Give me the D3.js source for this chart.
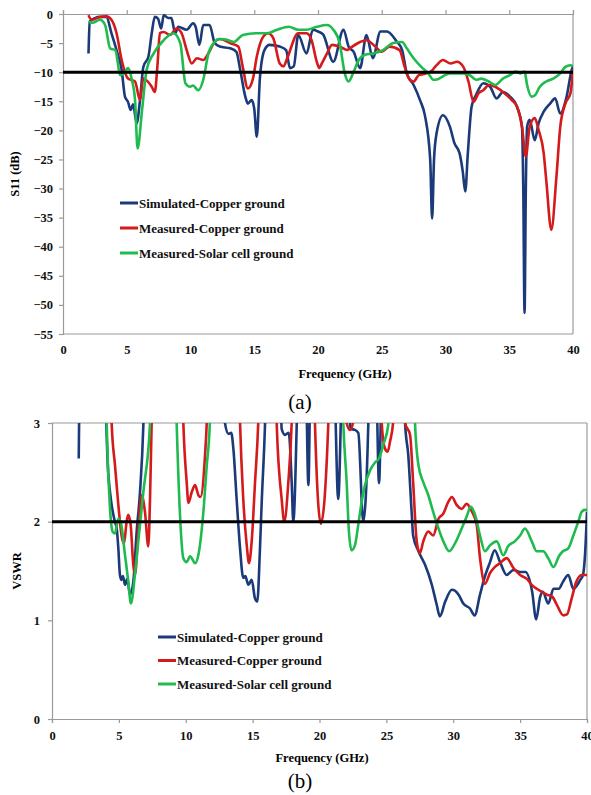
<!DOCTYPE html>
<html>
<head>
<meta charset="utf-8">
<script src="https://d3js.org/d3.v7.min.js"></script>
<style>
  body { margin: 0; background: #fff; }
  svg text { font-family: "Liberation Serif", "Times New Roman", serif; }
</style>
</head>
<body>
<div id="chart"></div>
<script>
// series names + colours -------------------------------------------------------------
const seriesNames = ["Simulated-Copper ground", "Measured-Copper ground", "Measured-Solar cell ground"];
const seriesColors = ["#1b3a7a", "#d41a1a", "#1fbb4f"];

// (a) S11 in dB ----------------------------------------------------------------------
const simFreqA = [2.0, 2.1, 2.5, 2.9, 3.4, 3.8, 4.2, 4.6, 4.86, 5.1, 5.3, 5.5, 5.78, 6.04, 6.3, 6.7, 6.96, 7.2, 7.45, 7.7, 7.9, 8.26, 8.5, 8.8, 9.04, 9.7, 10.2, 10.4, 10.7, 11.0, 11.5, 11.9, 12.3, 13.1, 13.6, 13.9, 14.3, 14.5, 14.8, 15.0, 15.2, 15.45, 15.8, 16.2, 17.0, 17.5, 17.8, 18.1, 18.45, 19.1, 19.6, 20.0, 20.4, 21.2, 22.0, 22.4, 22.8, 23.3, 23.8, 24.3, 24.9, 25.4, 26.2, 26.6, 26.96, 27.5, 28.0, 28.4, 28.8, 28.95, 29.1, 29.3, 29.8, 30.35, 30.7, 31.1, 31.35, 31.55, 31.75, 32.05, 32.4, 32.97, 33.5, 34.0, 34.5, 35.06, 35.6, 36.0, 36.1, 36.2, 36.3, 36.4, 36.6, 37.0, 37.3, 37.7, 38.2, 38.6, 39.0, 39.5, 39.9, 40.0];
const simS11 = [-6.8, -1.3, -0.7, -0.5, -0.5, -3.3, -6.2, -9.6, -14.2, -15.1, -16.5, -15.5, -18.8, -14.8, -9.1, -7.3, -3.3, -0.5, -0.8, -2.5, -0.2, -0.7, -0.7, -3.3, -2.2, -2.7, -1.6, -2.2, -5.3, -1.9, -1.9, -5.0, -5.6, -5.9, -6.5, -9.6, -14.2, -15.4, -14.8, -16.3, -21.1, -10.8, -6.2, -5.3, -5.6, -6.2, -9.3, -9.0, -3.6, -6.8, -2.7, -3.0, -3.5, -8.2, -2.7, -5.6, -6.5, -9.3, -3.6, -7.6, -3.0, -3.0, -4.8, -6.2, -10.2, -12.2, -14.8, -17.6, -25, -35.2, -25, -20.5, -17.4, -19.4, -22.2, -23.9, -27, -30.5, -24, -15.9, -13.9, -11.9, -12.5, -14.5, -13.4, -14.2, -15.9, -19.4, -30, -51.4, -30, -19.4, -18.2, -21.7, -18.8, -16.8, -15.4, -14.5, -17.1, -14.2, -9.6, -9.0];

const measFreqA = [2.0, 2.25, 2.9, 3.4, 3.8, 4.2, 4.6, 5.1, 5.65, 6.04, 6.3, 6.6, 6.96, 7.2, 7.4, 7.6, 7.9, 8.4, 8.9, 9.3, 9.7, 10.1, 10.5, 11.0, 11.4, 11.9, 12.3, 13.1, 13.75, 14.1, 14.5, 14.9, 15.2, 15.7, 16.1, 16.5, 17.0, 17.3, 17.6, 18.45, 19.1, 19.5, 19.9, 20.1, 20.3, 20.7, 21.1, 21.7, 22.3, 22.5, 23.3, 23.8, 24.5, 25.0, 25.6, 26.4, 26.8, 27.2, 27.5, 27.9, 28.5, 28.9, 29.3, 29.8, 30.4, 30.9, 31.4, 31.8, 32.2, 32.6, 32.97, 33.4, 33.9, 34.5, 35.2, 35.6, 36.0, 36.3, 36.6, 37.0, 37.3, 37.7, 37.9, 38.3, 38.7, 39.0, 39.4, 39.8, 40.0];
const measS11 = [-0.2, -1.0, -0.5, -0.4, -1.0, -3.3, -7.9, -11.1, -11.6, -14.8, -11.1, -11.5, -12.5, -13.4, -9.1, -3.3, -3.1, -3.6, -2.5, -3.3, -6.2, -8.5, -7.6, -7.9, -6.8, -4.8, -4.3, -5.0, -5.6, -9.1, -12.8, -11.1, -7.3, -3.9, -3.3, -4.2, -8.5, -9.0, -7.5, -3.3, -3.3, -4.5, -8.2, -9.3, -8.5, -6.8, -5.3, -5.6, -6.2, -5.9, -4.8, -4.5, -5.6, -6.5, -5.6, -6.2, -9.1, -11.3, -11.6, -10.5, -10.2, -9.8, -8.8, -7.9, -8.5, -8.2, -9.1, -11.6, -15.1, -13.6, -13.1, -12.2, -12.5, -13.4, -14.8, -15.9, -19.4, -24.5, -19.4, -17.9, -19.9, -23.9, -28.5, -37.1, -28, -19.4, -15.4, -13.6, -9.6];

const solarFreqA = [2.0, 2.3, 2.9, 3.3, 3.7, 4.1, 4.5, 4.8, 5.1, 5.4, 5.65, 5.85, 6.2, 6.56, 7.1, 7.9, 8.65, 9.2, 9.6, 9.96, 10.2, 10.6, 11.0, 11.4, 11.9, 12.3, 12.8, 13.4, 14.1, 15.2, 16.0, 16.8, 17.7, 18.45, 19.1, 19.9, 20.7, 21.2, 21.7, 22.1, 22.4, 22.8, 23.2, 23.7, 24.3, 25.1, 25.9, 26.6, 26.96, 27.5, 28.1, 28.65, 29.05, 29.4, 29.96, 30.35, 30.9, 31.4, 31.9, 32.4, 32.8, 33.4, 33.9, 34.5, 35.06, 35.5, 35.9, 36.2, 36.4, 36.75, 37.0, 37.4, 37.9, 38.45, 39.0, 39.4, 39.8, 40.0];
const solarS11 = [-1.3, -1.5, -1.0, -1.9, -5.9, -6.2, -10.5, -10.2, -9.3, -11.3, -14.8, -23.1, -16.5, -9.6, -6.8, -4.5, -3.3, -5.0, -11.9, -12.5, -12.3, -13.1, -11.3, -6.8, -4.8, -4.3, -4.4, -4.8, -3.6, -3.3, -3.3, -2.7, -2.2, -2.7, -2.7, -2.2, -1.9, -2.7, -5.0, -10.2, -11.6, -9.9, -7.9, -7.0, -6.8, -6.2, -5.0, -4.8, -5.9, -7.6, -9.1, -10.2, -11.3, -11.2, -10.5, -10.2, -10.2, -10.2, -10.5, -11.3, -11.1, -11.6, -12.2, -11.1, -10.5, -9.9, -10.2, -9.9, -12.2, -14.2, -14.0, -12.5, -11.6, -11.1, -10.2, -9.1, -8.8, -9.0];

// (b) VSWR, values above 3 run off the top of the plot --------------------------------
const simFreqB = [2.0, 2.1, 3.85, 4.2, 4.46, 4.7, 4.84, 4.96, 5.08, 5.2, 5.3, 5.46, 5.63, 5.83, 6.08, 6.33, 6.58, 6.83, 6.95, 12.8, 12.93, 13.2, 13.4, 13.56, 13.8, 14.06, 14.3, 14.45, 14.68, 14.93, 15.18, 15.35, 15.55, 15.68, 15.93, 16.05, 17.05, 17.17, 17.42, 17.7, 17.92, 18.04, 18.3, 18.4, 18.95, 19.17, 19.35, 21.05, 21.4, 21.75, 22.15, 22.3, 22.65, 22.9, 23.27, 23.65, 23.75, 24.2, 24.45, 24.7, 26.3, 26.4, 26.64, 26.9, 27.0, 27.4, 27.9, 28.4, 28.76, 29.0, 29.4, 29.9, 30.4, 30.75, 31.25, 31.6, 32.0, 32.4, 32.75, 33.1, 33.5, 34.0, 34.5, 35.0, 35.4, 35.9, 36.2, 36.5, 36.7, 37.1, 37.5, 37.9, 38.2, 38.6, 38.98, 39.5, 39.7, 39.85, 40.0];
const simVswr = [2.64, 3.6, 3.6, 2.5, 2.17, 2.0, 1.93, 1.73, 1.46, 1.41, 1.45, 1.36, 1.42, 1.26, 1.39, 1.9, 2.3, 2.98, 3.6, 3.6, 3.0, 2.89, 2.9, 2.74, 2.24, 1.73, 1.43, 1.45, 1.36, 1.41, 1.22, 1.19, 1.73, 2.2, 3.0, 3.6, 3.6, 2.94, 2.88, 2.9, 2.4, 2.0, 3.0, 3.6, 3.6, 2.37, 3.6, 3.6, 2.23, 3.6, 3.6, 2.94, 2.93, 2.9, 2.0, 3.0, 3.6, 3.6, 2.39, 3.6, 3.6, 3.0, 2.67, 2.07, 1.86, 1.7, 1.56, 1.36, 1.16, 1.04, 1.19, 1.31, 1.26, 1.17, 1.12, 1.05, 1.26, 1.46, 1.59, 1.71, 1.59, 1.46, 1.51, 1.49, 1.49, 1.29, 1.01, 1.24, 1.29, 1.17, 1.32, 1.32, 1.39, 1.46, 1.32, 1.41, 1.46, 1.66, 2.1];

const measFreqB = [2.0, 4.4, 4.46, 4.71, 4.96, 5.2, 5.38, 5.58, 5.7, 5.88, 6.08, 6.2, 6.45, 6.7, 6.95, 7.2, 7.33, 7.45, 7.55, 9.7, 9.82, 10.07, 10.2, 10.45, 10.7, 10.94, 11.1, 11.44, 11.57, 11.7, 13.95, 14.06, 14.3, 14.56, 14.73, 14.93, 15.18, 15.42, 15.55, 16.7, 16.8, 17.17, 17.37, 17.67, 17.92, 18.05, 19.55, 19.66, 20.1, 20.66, 20.8, 21.9, 22.03, 22.28, 22.5, 22.6, 24.55, 24.65, 24.9, 25.1, 25.27, 25.5, 25.6, 26.3, 26.4, 26.77, 27.0, 27.27, 27.5, 27.76, 28.13, 28.5, 28.9, 29.25, 29.63, 29.9, 30.25, 30.63, 31.0, 31.4, 31.75, 32.0, 32.37, 32.75, 33.1, 33.5, 34.0, 34.5, 35.0, 35.5, 35.87, 36.24, 36.6, 37.0, 37.4, 37.7, 38.23, 38.5, 38.85, 39.2, 39.6, 40.0];
const measVswr = [3.6, 3.6, 3.0, 2.57, 2.17, 1.86, 1.78, 2.0, 2.07, 1.97, 1.56, 1.46, 1.9, 2.27, 2.1, 1.75, 2.24, 3.0, 3.6, 3.6, 3.0, 2.4, 2.19, 2.3, 2.37, 2.27, 2.25, 2.67, 3.0, 3.6, 3.6, 3.0, 2.23, 1.76, 1.58, 1.8, 2.4, 3.0, 3.6, 3.6, 3.0, 2.23, 2.0, 2.4, 3.0, 3.6, 3.6, 3.0, 1.98, 3.0, 3.6, 3.6, 3.0, 2.93, 3.0, 3.6, 3.6, 3.0, 2.74, 2.71, 2.81, 3.0, 3.6, 3.6, 3.0, 2.88, 2.4, 1.8, 1.68, 1.8, 1.9, 1.86, 2.03, 2.08, 2.2, 2.25, 2.17, 2.13, 2.18, 2.1, 1.97, 1.63, 1.37, 1.48, 1.54, 1.58, 1.63, 1.53, 1.46, 1.42, 1.36, 1.32, 1.29, 1.26, 1.24, 1.17, 1.05, 1.06, 1.22, 1.39, 1.46, 1.46];

const solarFreqB = [2.0, 4.0, 4.09, 4.34, 4.53, 4.7, 4.96, 5.13, 5.46, 5.71, 5.9, 6.2, 6.45, 6.83, 7.33, 7.45, 9.2, 9.32, 9.57, 9.82, 10.07, 10.32, 10.7, 10.94, 11.3, 11.57, 11.8, 11.9, 21.65, 21.78, 22.03, 22.2, 22.4, 22.65, 22.9, 23.15, 23.4, 23.78, 24.15, 24.45, 24.77, 25.14, 25.3, 27.0, 27.14, 27.4, 27.76, 28.13, 28.5, 28.9, 29.26, 29.7, 30.13, 30.63, 31.0, 31.3, 31.63, 32.0, 32.37, 32.75, 33.25, 33.74, 34.1, 34.6, 35.0, 35.36, 35.87, 36.24, 36.73, 37.1, 37.5, 37.9, 38.2, 38.6, 38.98, 39.35, 39.6, 39.85, 40.0];
const solarVswr = [3.6, 3.6, 3.0, 2.13, 1.9, 1.88, 2.03, 2.0, 1.66, 1.39, 1.17, 1.46, 1.8, 2.3, 3.0, 3.6, 3.6, 3.0, 2.07, 1.63, 1.59, 1.65, 1.58, 1.66, 2.07, 2.57, 3.0, 3.6, 3.6, 3.0, 2.4, 1.9, 1.71, 1.76, 1.97, 2.2, 2.37, 2.52, 2.6, 2.64, 2.78, 2.98, 3.6, 3.6, 3.0, 2.57, 2.4, 2.27, 2.1, 1.93, 1.8, 1.7, 1.78, 1.93, 2.05, 2.15, 2.07, 1.86, 1.7, 1.76, 1.8, 1.66, 1.75, 1.8, 1.86, 1.93, 1.8, 1.7, 1.7, 1.63, 1.54, 1.65, 1.7, 1.73, 1.86, 2.0, 2.1, 2.12, 2.12];

// tick labels
const freqTicks = [0, 5, 10, 15, 20, 25, 30, 35, 40];
const s11Ticks = [0, -5, -10, -15, -20, -25, -30, -35, -40, -45, -50, -55];
const vswrTicks = [0, 1, 2, 3];

const serif = '"Liberation Serif", "Times New Roman", serif';

const svg = d3.select('#chart')
    .append('svg')
    .attr('width', 591)
    .attr('height', 795)
    .attr('font-family', serif);

const zip = (xs, ys) => xs.map((x, i) => [x, ys[i]]);

function styleAxis(g) {
    g.attr('font-family', serif);
    g.selectAll('.domain').attr('stroke', '#9a9a9a').attr('stroke-width', 1.2);
    g.selectAll('.tick line').attr('stroke', '#9a9a9a').attr('stroke-width', 1.2);
    g.selectAll('.tick text')
        .attr('fill', '#111')
        .style('font-size', '12.5px')
        .style('font-weight', 'bold');
}

function drawPanel(p) {
    const x = d3.scaleLinear().domain([0, 40]).range([p.left, p.right]);
    const y = d3.scaleLinear().domain(p.yDomain).range([p.bottom, p.top]);

    const g = svg.append('g');

    // clip so curves going off the scale stop at the frame
    g.append('clipPath').attr('id', p.id)
        .append('rect')
        .attr('x', p.left).attr('y', p.top)
        .attr('width', p.right - p.left).attr('height', p.bottom - p.top);

    // frame lines
    g.append('line')
        .attr('x1', p.right).attr('x2', p.right).attr('y1', p.top).attr('y2', p.bottom)
        .attr('stroke', '#9a9a9a').attr('stroke-width', 1.2);
    g.append('line')
        .attr('x1', p.left).attr('x2', p.right)
        .attr('y1', p.tickTop ? p.bottom : p.top).attr('y2', p.tickTop ? p.bottom : p.top)
        .attr('stroke', '#9a9a9a').attr('stroke-width', 1.2);

    // y axis
    g.append('g')
        .attr('transform', `translate(${p.left},0)`)
        .call(d3.axisLeft(y).tickValues(p.yTicks).tickSize(4).tickPadding(p.yPad).tickFormat(d3.format('d')))
        .call(styleAxis);

    // x axis: tick marks on the top edge for S11, on the bottom for VSWR
    if (p.tickTop) {
        g.append('g')
            .attr('transform', `translate(0,${p.top})`)
            .call(d3.axisTop(x).tickValues(freqTicks).tickSize(4).tickFormat(''))
            .call(styleAxis);
        g.append('g')
            .attr('transform', `translate(0,${p.bottom})`)
            .call(d3.axisBottom(x).tickValues(freqTicks).tickSize(0).tickPadding(11))
            .call(styleAxis)
            .call(a => a.select('.domain').remove());
    } else {
        g.append('g')
            .attr('transform', `translate(0,${p.bottom})`)
            .call(d3.axisBottom(x).tickValues(freqTicks).tickSize(4).tickPadding(8))
            .call(styleAxis);
    }

    const line = d3.line()
        .x(d => x(d[0]))
        .y(d => y(d[1]))
        .curve(d3.curveMonotoneX);

    g.append('g')
        .attr('clip-path', `url(#${p.id})`)
        .selectAll('path')
        .data(p.series)
        .join('path')
        .attr('d', d => line(d))
        .attr('fill', 'none')
        .attr('stroke', (d, i) => seriesColors[i])
        .attr('stroke-width', 2.6)
        .attr('stroke-linejoin', 'round');

    // black reference line
    g.append('line')
        .attr('x1', p.left).attr('x2', p.right)
        .attr('y1', y(p.refValue)).attr('y2', y(p.refValue))
        .attr('stroke', '#000').attr('stroke-width', 3);

    // legend
    const leg = g.selectAll('.legend')
        .data(seriesNames)
        .join('g')
        .attr('transform', (d, i) => `translate(${p.legendX},${p.legendY + i * p.legendStep})`);
    leg.append('line')
        .attr('x1', 0).attr('x2', 18)
        .attr('stroke', (d, i) => seriesColors[i])
        .attr('stroke-width', 3);
    leg.append('text')
        .attr('x', 19).attr('y', 4.5)
        .style('font-size', '13px').style('font-weight', 'bold')
        .attr('fill', '#111')
        .text(d => d);

    // titles
    g.append('text')
        .attr('transform', `translate(${p.yTitleX},${(p.top + p.bottom) / 2}) rotate(-90)`)
        .attr('text-anchor', 'middle')
        .style('font-size', '12.5px').style('font-weight', 'bold')
        .text(p.yTitle);
    g.append('text')
        .attr('x', p.xTitleX).attr('y', p.xTitleY)
        .attr('text-anchor', 'middle')
        .style('font-size', '12.5px').style('font-weight', 'bold')
        .text('Frequency (GHz)');
    g.append('text')
        .attr('x', 300).attr('y', p.captionY)
        .attr('text-anchor', 'middle')
        .style('font-size', '21px')
        .text(p.caption);
}

drawPanel({
    id: 'clipA', left: 63, right: 573, top: 14, bottom: 334,
    yDomain: [-55, 0], yTicks: s11Ticks, yPad: 6, tickTop: true,
    series: [zip(simFreqA, simS11), zip(measFreqA, measS11), zip(solarFreqA, solarS11)],
    refValue: -10,
    legendX: 120, legendY: 203, legendStep: 25,
    yTitle: 'S11 (dB)', yTitleX: 19,
    xTitleX: 345, xTitleY: 378,
    caption: '(a)', captionY: 409
});

drawPanel({
    id: 'clipB', left: 52, right: 587, top: 423, bottom: 719,
    yDomain: [0, 3], yTicks: vswrTicks, yPad: 8, tickTop: false,
    series: [zip(simFreqB, simVswr), zip(measFreqB, measVswr), zip(solarFreqB, solarVswr)],
    refValue: 2,
    legendX: 158, legendY: 637, legendStep: 23.5,
    yTitle: 'VSWR', yTitleX: 21,
    xTitleX: 322, xTitleY: 762,
    caption: '(b)', captionY: 788
});
</script>
</body>
</html>
